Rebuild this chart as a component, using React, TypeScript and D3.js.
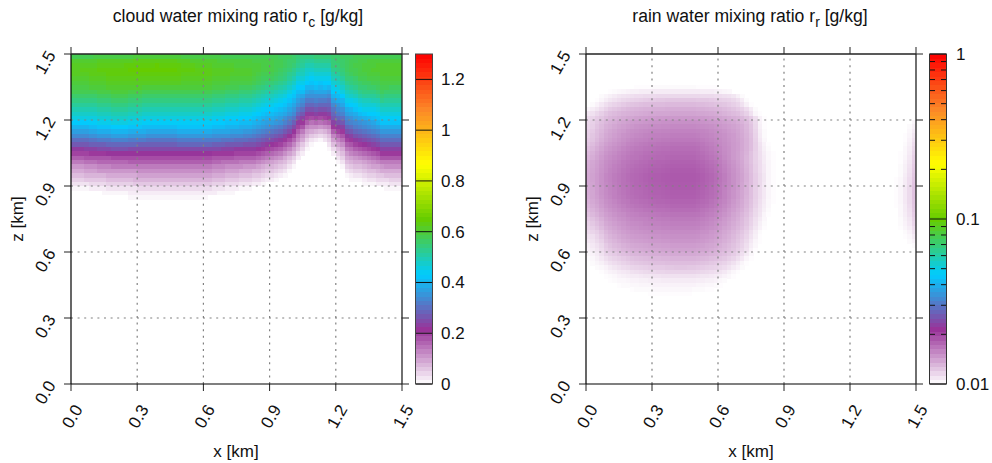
import React from "react";
import * as d3 from "d3";

// Axis ticks and labels
const axisTicks = [0, 0.3, 0.6, 0.9, 1.2, 1.5];
const gridTicks = [0.3, 0.6, 0.9, 1.2];
const rcBarTicks = [0, 0.2, 0.4, 0.6, 0.8, 1, 1.2];
const rrBarMajor = [0.01, 0.1, 1];
const rrBarMinor = [0.02, 0.03, 0.04, 0.05, 0.06, 0.07, 0.08, 0.09, 0.2, 0.3, 0.4, 0.5, 0.6, 0.7, 0.8, 0.9];
const paletteColors = ["#FFFFFF", "#993399", "#00CCFF", "#66CC00", "#FFFF00", "#FC8727", "#FD0000"];

// cell size of the model grid [km]
const dx = 0.02;
// rc [0.01 g/kg]: one array per grid column (x = 0..1.5 km), bottom-up from z = 0.84-0.86 km to 1.48-1.50 km
const rcColumns: number[][] = [
[0,0,1,3,5,7,9,11,14,17,20,23,27,30,34,37,40,43,46,48,50,52,54,56,58,59,60,61,62,62,62,61,58],
[0,0,1,3,5,7,9,11,14,17,20,23,27,30,34,37,40,43,46,48,50,52,54,56,58,59,60,61,62,62,62,61,58],
[0,0,1,3,5,7,9,11,14,17,20,23,27,30,34,37,40,43,46,48,50,52,54,56,58,59,60,61,62,63,62,61,58],
[0,0,1,3,6,8,10,12,15,18,20,24,27,30,34,37,40,43,46,48,50,52,54,56,58,59,60,61,62,63,62,61,58],
[0,0,2,4,6,8,10,12,15,18,21,24,28,31,35,38,41,44,46,48,50,52,54,56,58,60,61,62,63,63,62,61,58],
[0,0,2,4,6,8,10,12,15,18,21,24,28,31,35,38,41,44,46,48,50,52,54,56,58,60,61,62,63,63,62,61,59],
[0,0,2,4,6,8,11,13,16,18,21,25,28,32,36,39,42,45,47,49,51,53,55,57,59,60,61,62,63,64,63,62,59],
[0,1,2,4,6,8,11,13,16,18,21,25,28,32,36,39,42,45,47,49,51,53,55,57,59,60,61,62,63,64,63,62,59],
[0,1,3,5,7,9,11,13,16,18,22,25,29,32,36,39,42,45,47,49,51,53,55,57,59,61,62,63,64,64,63,62,59],
[0,1,3,5,7,9,11,14,16,19,22,26,29,33,37,40,43,46,48,50,52,54,56,58,60,61,62,63,64,64,63,62,59],
[0,1,3,5,7,9,11,14,16,19,22,26,29,33,37,40,43,46,48,50,52,54,56,58,60,61,62,63,64,64,63,62,59],
[0,1,3,5,7,9,11,14,16,19,22,26,29,33,37,40,43,46,48,50,52,54,56,58,60,61,62,63,64,64,63,62,59],
[0,1,3,5,7,9,11,14,16,19,22,26,29,33,37,40,43,46,48,50,52,54,56,58,60,61,62,63,64,64,64,62,59],
[1,2,3,5,7,9,11,14,17,19,22,25,29,32,36,39,42,45,47,49,51,53,55,57,59,61,62,63,64,65,64,62,59],
[1,2,3,6,8,9,11,14,17,19,22,25,29,32,36,39,42,45,47,49,51,53,55,57,59,61,62,63,64,65,64,63,60],
[1,2,4,6,8,10,12,14,17,19,22,25,28,32,36,39,42,45,47,49,51,53,55,57,59,61,62,63,64,65,64,63,60],
[1,2,4,6,8,10,12,14,17,19,22,25,28,32,36,39,41,44,46,48,50,52,54,56,58,60,62,63,64,65,64,63,60],
[1,2,4,6,8,10,12,14,17,19,22,25,28,31,35,38,41,44,46,48,50,52,54,56,58,60,62,63,64,65,64,63,60],
[1,2,4,6,8,10,12,14,17,19,22,25,28,31,35,38,41,44,46,48,50,52,54,56,58,60,62,63,64,65,64,63,60],
[1,2,4,6,8,10,12,14,17,19,22,25,28,31,35,38,41,44,46,48,50,52,54,56,58,60,62,63,64,65,65,63,60],
[1,2,4,6,8,10,12,14,17,19,22,25,28,31,35,38,41,44,46,48,50,52,54,56,58,60,62,63,64,65,64,63,60],
[1,2,4,6,8,10,12,14,17,19,22,25,28,31,35,38,41,44,46,48,50,52,54,56,58,60,62,63,64,65,64,63,60],
[1,2,4,6,8,10,12,14,17,19,22,25,28,31,35,38,41,44,46,48,50,52,54,56,58,60,62,63,64,65,64,63,60],
[1,2,4,6,8,10,12,14,17,19,22,25,28,31,35,38,41,44,46,48,50,52,54,56,58,60,62,63,64,65,64,63,60],
[1,2,4,6,8,10,12,14,17,19,22,25,29,32,36,39,42,44,46,48,50,52,54,56,58,60,62,63,64,64,64,62,60],
[1,2,4,6,8,10,12,14,17,19,22,25,29,32,36,39,42,44,46,48,50,52,54,56,58,60,61,62,63,64,63,62,59],
[1,2,4,6,8,10,12,14,17,19,22,25,29,32,36,39,42,44,46,48,50,52,54,56,58,60,61,62,63,64,63,62,59],
[1,2,4,6,8,10,12,14,17,19,22,25,29,32,36,39,42,44,46,48,50,52,54,56,58,60,61,62,63,64,63,61,59],
[1,2,4,6,8,10,12,14,17,19,22,25,29,32,36,39,42,44,46,48,50,52,54,56,58,60,61,62,63,63,62,61,59],
[1,2,4,6,8,10,12,14,17,19,22,25,29,32,36,39,42,44,46,48,50,52,54,56,58,60,61,62,63,63,62,61,59],
[1,2,4,6,8,10,12,14,17,19,22,25,29,32,36,39,42,44,46,48,50,52,54,56,58,60,61,62,63,63,62,61,59],
[0,2,4,6,8,10,12,14,17,19,22,25,29,32,36,39,42,44,46,48,50,52,54,56,58,60,61,62,63,63,62,61,59],
[0,2,3,5,7,9,11,13,16,18,21,25,28,32,35,38,41,43,45,47,49,51,53,55,57,59,60,61,62,62,61,61,59],
[0,1,3,5,7,9,11,13,16,18,21,25,28,32,35,38,41,43,45,47,49,51,53,55,57,59,60,61,62,62,61,60,59],
[0,1,3,5,7,9,11,13,15,18,21,24,28,31,35,38,41,43,45,47,49,51,53,55,57,59,60,61,62,62,61,60,58],
[0,1,2,4,6,8,10,12,15,18,21,24,27,31,35,38,40,42,44,46,48,50,52,54,56,58,60,61,62,62,61,60,58],
[0,1,2,4,6,8,10,12,15,18,21,24,27,31,34,37,40,42,44,46,48,50,52,54,56,58,59,60,61,62,61,60,58],
[0,0,2,4,6,8,10,12,15,17,20,23,27,30,34,37,40,42,44,46,48,50,52,54,56,58,59,60,61,61,60,60,58],
[0,0,1,3,5,7,9,12,14,17,20,23,27,30,34,37,39,41,43,45,47,49,51,53,55,57,59,60,61,61,60,60,58],
[0,0,1,3,5,7,9,11,14,17,20,23,26,30,33,36,39,41,43,45,47,49,51,53,55,57,59,60,61,61,60,60,58],
[0,0,1,3,5,7,9,11,14,17,20,23,26,29,33,36,39,41,43,45,47,49,51,53,55,57,59,60,61,61,60,60,58],
[0,0,0,2,4,6,8,11,14,17,20,23,26,29,32,35,38,40,42,44,46,48,50,52,54,56,58,59,60,60,60,59,58],
[0,0,0,2,4,6,8,10,13,16,19,22,25,28,31,34,37,39,41,43,45,47,49,51,53,55,57,58,59,60,60,59,58],
[0,0,0,1,3,5,7,9,12,15,18,21,24,27,30,33,36,38,40,42,44,46,48,50,52,54,56,57,58,59,59,59,58],
[0,0,0,0,2,4,6,8,11,14,17,20,23,26,29,32,35,37,39,41,43,45,47,49,51,53,55,57,58,59,59,59,58],
[0,0,0,0,2,4,6,8,10,13,16,19,22,25,28,31,34,37,39,41,43,45,47,49,51,53,55,57,58,59,59,59,58],
[0,0,0,0,1,3,5,7,9,12,15,18,21,24,27,30,33,36,38,40,42,44,46,48,50,52,54,56,57,58,58,58,58],
[0,0,0,0,0,2,4,6,8,11,14,17,20,23,26,29,32,35,37,39,41,43,45,47,49,51,53,55,56,57,58,58,57],
[0,0,0,0,0,1,3,5,7,9,12,15,18,21,24,27,30,33,35,38,40,42,44,46,48,50,52,54,55,56,57,57,57],
[0,0,0,0,0,0,1,3,5,7,10,13,16,19,22,25,28,31,33,36,38,40,42,44,46,48,50,52,53,55,56,56,57],
[0,0,0,0,0,0,0,1,3,5,8,10,13,16,19,22,25,28,31,34,36,38,40,42,44,46,48,50,52,53,55,56,56],
[0,0,0,0,0,0,0,0,0,2,4,7,9,12,14,17,20,23,26,29,32,35,37,39,41,43,45,47,49,51,53,54,55],
[0,0,0,0,0,0,0,0,0,0,2,4,6,9,11,14,18,21,24,27,30,33,35,38,41,43,45,47,49,50,52,53,54],
[0,0,0,0,0,0,0,0,0,0,0,1,3,5,8,10,13,17,20,23,26,29,32,35,38,40,43,45,47,48,50,52,54],
[0,0,0,0,0,0,0,0,0,0,0,0,1,3,6,9,12,15,19,23,26,29,32,35,37,40,42,44,46,48,50,52,54],
[0,0,0,0,0,0,0,0,0,0,0,0,0,2,5,8,12,16,20,24,27,30,33,35,38,41,43,45,47,49,51,53,55],
[0,0,0,0,0,0,0,0,0,0,0,0,0,1,4,7,11,15,19,23,26,29,32,35,38,40,42,45,47,49,51,53,55],
[0,0,0,0,0,0,0,0,0,0,0,0,0,3,5,8,12,16,20,23,26,29,32,35,38,41,43,45,47,49,51,53,55],
[0,0,0,0,0,0,0,0,0,0,0,1,3,5,7,10,13,17,21,24,27,29,31,34,37,40,43,45,47,49,51,53,55],
[0,0,0,0,0,0,0,0,0,0,2,4,7,10,13,17,21,24,27,29,31,34,37,40,43,45,47,49,51,53,55,55,56],
[0,0,0,0,0,0,0,0,1,3,5,7,10,13,16,20,23,26,29,32,34,36,39,41,44,46,48,50,52,54,55,56,56],
[0,0,0,0,0,0,0,1,3,5,7,9,12,15,18,21,24,27,30,33,35,38,40,43,46,48,50,52,54,55,56,56,57],
[0,0,0,0,0,1,3,5,7,9,11,14,17,20,23,26,29,32,34,37,39,42,45,47,49,51,53,55,56,57,57,57,57],
[0,0,0,0,1,2,4,6,8,10,13,15,18,21,24,27,30,33,35,38,40,43,45,48,50,52,54,55,57,58,58,58,57],
[0,0,0,0,1,3,5,7,9,11,14,17,20,23,26,29,32,34,37,39,42,44,46,49,51,53,55,56,58,58,59,58,58],
[0,0,0,0,1,3,5,7,9,12,15,18,21,24,27,30,33,35,38,41,44,46,48,51,53,55,56,58,59,59,59,59,58],
[0,0,0,1,2,4,6,8,10,13,16,19,22,25,28,31,34,36,39,42,45,47,49,52,54,55,57,58,59,60,60,59,58],
[0,0,0,1,3,5,7,9,11,14,17,20,23,26,29,32,35,37,40,43,45,47,49,52,54,56,57,59,60,60,60,60,58],
[0,0,0,1,3,5,7,10,12,15,18,21,24,27,30,33,36,38,41,43,45,47,50,52,54,56,58,59,60,61,60,60,58],
[0,0,0,2,4,6,8,10,13,16,19,22,25,28,31,34,37,40,42,44,46,48,50,53,55,57,58,59,60,61,61,60,58],
[0,0,0,2,4,6,9,11,14,18,21,24,27,30,33,36,39,42,44,46,48,50,53,55,57,58,59,60,61,61,61,60,58],
[0,0,1,2,4,7,9,12,14,18,21,24,27,30,33,36,39,42,44,46,48,50,52,54,56,58,59,60,61,61,61,60,58],
[0,0,1,3,5,7,9,12,14,18,21,24,27,30,33,36,39,42,44,46,48,50,52,54,56,57,59,60,61,61,61,60,58],
[0,0,1,3,5,7,9,12,14,18,21,24,27,30,33,36,39,42,44,46,48,50,52,54,56,57,59,60,61,61,61,60,58],
[0,0,1,3,5,7,9,12,14,18,21,24,27,30,33,36,39,42,44,46,48,50,52,54,56,57,59,60,61,61,61,60,58],
];

// rr [1e-4 g/kg]: one array per grid row, top-down from z = 1.34-1.36 km; index = grid column from x = 0
const rrTopRow = 1.34;
const rrRows: number[][] = [
[0,0,0,0,0,0,0,0,0,0,0,101,101,101,101,102,102,102,102,102,102,102,102,102,102,101,101,101,101,101],
[0,0,0,0,0,101,102,103,104,105,106,106,107,107,107,108,108,108,108,108,108,108,108,108,108,108,107,107,107,106,105,104,103],
[0,0,0,102,104,106,108,110,111,112,113,114,114,115,115,115,116,116,116,116,116,116,116,116,116,116,115,115,115,114,114,113,112,110,106,102],
[0,0,101,104,107,110,112,114,116,117,118,119,120,121,122,122,123,123,124,124,124,124,124,124,124,123,123,123,122,121,120,119,118,116,113,108,102],
[0,102,105,109,113,116,118,120,122,124,125,126,127,128,128,129,129,129,130,130,130,130,130,130,130,129,129,128,127,126,125,124,122,120,117,112,106,101],
[104,107,110,114,118,122,124,126,128,130,131,132,133,134,134,135,135,135,136,136,136,136,136,136,136,135,135,134,133,132,131,129,127,125,122,119,114,108,102],
[110,112,116,120,124,127,129,131,133,134,135,136,137,138,139,139,140,140,140,141,141,141,141,141,141,140,140,139,138,137,135,133,131,129,127,123,119,112,104,101],
[115,117,121,124,128,131,133,135,137,139,140,142,143,144,145,145,146,146,147,147,147,147,147,147,147,146,146,145,144,142,141,139,137,135,133,130,126,121,113,105,101],
[116,119,123,127,131,134,136,139,141,143,145,146,147,148,149,150,150,151,151,152,152,152,152,152,152,151,150,149,148,147,145,143,141,139,136,133,129,123,115,105,101],
[117,120,125,129,134,136,139,142,144,146,148,150,151,152,153,154,154,155,155,156,156,156,156,156,156,155,154,153,152,150,148,146,144,142,139,136,131,125,116,106,101],
[119,122,127,131,136,139,142,145,147,150,152,153,155,156,157,158,158,159,159,160,160,160,160,160,160,159,158,157,155,153,151,149,146,144,141,137,132,126,117,107,102],
[120,124,128,133,138,141,144,147,150,152,154,156,157,159,160,161,161,162,162,163,163,163,163,163,163,162,160,159,157,155,153,151,148,146,142,138,133,127,118,108,102],
[122,125,130,135,140,143,146,149,152,155,157,159,160,161,163,163,164,165,165,166,166,166,166,166,166,165,163,161,159,157,155,152,149,146,143,139,134,128,119,109,103],
[124,128,133,138,143,146,149,152,155,158,160,162,164,165,167,167,168,169,169,170,170,170,170,170,170,169,167,164,162,159,156,153,150,147,144,139,134,128,120,111,105,101],
[127,131,136,141,146,149,152,155,158,161,163,165,166,168,169,170,171,172,172,173,173,173,173,173,173,172,169,167,164,161,158,154,151,147,144,139,134,128,120,112,106,102],
[130,134,139,144,149,152,155,158,161,164,166,168,169,171,172,173,174,175,175,176,176,176,176,176,176,174,172,169,166,163,159,155,151,147,143,138,133,126,119,113,107,103,101],
[132,136,141,146,151,154,157,160,163,166,168,169,171,173,174,175,176,176,177,178,178,178,178,178,178,176,174,171,168,165,161,156,152,147,143,138,132,126,119,113,108,103,101],
[135,139,143,148,153,156,159,162,166,168,170,172,174,175,177,178,179,179,180,181,181,181,181,181,181,179,177,174,171,168,163,158,153,149,144,139,132,126,119,114,108,104,101],
[136,140,144,149,154,157,161,164,167,170,172,174,176,177,179,180,180,181,182,183,183,183,183,183,183,181,179,176,173,170,165,160,155,150,145,140,133,127,120,114,109,104,101],
[137,141,145,150,155,159,162,165,169,171,174,176,177,179,181,182,182,183,184,185,185,185,185,185,185,183,181,178,175,171,166,161,156,151,146,141,134,127,120,114,109,104,101],
[138,142,146,151,157,160,164,167,170,173,176,177,179,181,183,184,184,185,186,187,187,187,187,187,187,185,183,180,177,173,168,163,157,152,147,142,135,128,121,115,110,104,101],
[138,142,146,151,157,160,164,167,170,173,176,177,179,181,183,184,184,185,186,187,187,187,187,187,187,185,183,180,177,173,168,163,157,152,147,142,135,128,121,115,110,104,101],
[138,141,146,151,156,159,163,166,170,172,175,177,178,180,182,183,183,184,185,186,186,186,186,186,186,184,182,179,176,172,167,162,157,152,146,141,134,128,121,115,109,104,101],
[137,141,145,150,155,159,162,165,169,171,174,176,177,179,181,182,182,183,184,185,185,185,185,185,185,183,181,178,175,171,166,161,156,151,146,141,134,127,120,114,109,104,101],
[137,140,145,150,155,158,161,165,168,171,173,175,176,178,180,181,181,182,183,184,184,184,184,184,184,182,180,177,174,171,166,160,155,150,145,140,134,127,120,114,109,104,101],
[136,140,144,149,154,157,161,164,167,170,172,174,176,177,179,180,180,181,182,183,183,183,183,183,183,181,179,176,173,170,165,160,155,150,145,140,133,127,120,114,109,104,101],
[134,138,142,147,152,155,158,162,165,167,170,171,173,174,176,177,178,178,179,180,180,180,180,180,180,178,176,174,170,167,162,158,153,148,143,138,132,126,119,113,108,103,101],
[132,136,140,145,150,153,156,159,162,165,167,169,170,172,173,174,175,175,176,177,177,177,177,177,177,175,173,171,168,165,160,156,151,146,142,137,131,125,118,112,107,103],
[129,133,137,142,147,150,153,156,159,161,163,165,166,168,169,170,171,171,172,173,173,173,173,173,173,172,169,167,164,161,157,153,148,144,139,135,129,123,116,111,106,102],
[126,130,134,139,144,147,150,153,155,158,160,161,163,164,165,166,167,168,168,169,169,169,169,169,169,168,166,163,161,158,154,150,146,141,137,132,127,121,115,110,104,101],
[122,126,130,135,141,144,147,150,152,155,157,158,159,160,162,162,163,164,164,165,165,165,165,165,165,164,162,160,157,155,151,147,143,139,135,130,125,119,113,108,103],
[119,123,127,132,138,141,144,147,149,152,154,155,156,158,159,160,160,161,161,162,162,162,162,162,162,161,159,157,155,152,148,145,141,137,133,129,124,118,112,106,102],
[117,120,124,129,135,138,141,144,147,149,151,152,154,155,156,157,157,158,158,159,159,159,159,159,159,158,156,154,152,150,146,142,139,135,131,127,122,116,110,105,101],
[114,117,120,125,131,135,138,141,144,146,148,149,150,151,152,153,153,154,154,155,155,155,155,155,155,154,152,151,148,146,143,139,136,132,128,124,119,113,107,102],
[111,113,117,122,128,132,135,138,141,143,145,146,147,148,149,150,150,151,151,152,152,152,152,152,152,151,149,148,146,144,141,137,134,130,126,122,117,111,106,101],
[109,111,115,119,126,129,132,135,138,140,142,143,144,145,146,147,147,148,148,149,149,149,149,149,149,148,147,145,143,141,138,135,132,128,124,120,115,109,104,101],
[106,109,112,116,122,126,129,131,134,136,138,139,140,141,142,143,143,144,144,145,145,145,145,145,145,144,143,141,140,138,135,132,129,126,122,118,113,107,103],
[105,107,110,114,120,123,126,128,131,133,135,136,137,138,139,140,140,141,141,142,142,142,142,142,142,141,140,139,137,135,132,130,127,124,120,116,111,105,101],
[103,105,108,112,117,120,122,125,127,129,131,132,133,134,135,136,136,137,137,138,138,138,138,138,138,137,136,135,133,132,129,127,124,121,117,113,108,103],
[101,103,106,109,113,116,118,120,122,124,126,127,128,129,130,131,131,132,132,133,133,133,133,133,133,132,131,130,128,127,125,123,120,117,113,109,104,101],
[0,102,104,106,109,112,114,116,118,120,122,123,124,125,126,127,127,127,128,128,128,128,128,128,128,127,126,125,123,122,120,118,115,112,108,104,101],
[0,0,102,103,105,108,110,112,114,115,117,118,119,120,121,122,122,122,123,123,124,124,124,123,123,122,121,120,119,118,116,114,111,108,105,102],
[0,0,0,101,103,105,106,108,109,110,112,113,114,115,116,116,117,117,118,118,118,118,118,118,118,117,116,115,114,113,111,109,106,103,101],
[0,0,0,0,101,102,103,105,106,107,108,108,109,110,110,111,111,112,112,112,112,112,112,112,112,111,110,110,109,108,107,105,103,101],
[0,0,0,0,0,101,102,103,103,104,105,105,106,106,107,107,107,108,108,108,108,108,108,108,108,107,107,106,106,105,103,102],
[0,0,0,0,0,0,0,101,102,102,103,103,104,104,104,105,105,105,105,105,105,105,105,105,105,104,104,103,103,102,101],
[0,0,0,0,0,0,0,0,0,0,101,102,102,102,102,103,103,103,103,103,103,103,103,103,102,102,102,101,101],
[0,0,0,0,0,0,0,0,0,0,0,0,0,0,101,101,101,101,101,101,101,101,101,101],
];

// rr [1e-4 g/kg] at the last five grid columns (x = 1.40..1.50 km), top-down from z = 1.18-1.20 km
const rrEdgeTopRow = 1.18;
const rrEdgeRows: number[][] = [
[0,0,0,0,104],[0,0,0,102,106],[0,0,0,103,108],[0,0,101,104,110],[0,0,101,105,112],[0,0,102,106,114],[0,0,103,107,116],[0,101,103,108,117],
[0,101,104,109,119],[0,101,105,110,120],[0,102,106,111,121],[0,102,106,112,122],[0,102,107,113,123],[101,103,108,114,124],[101,103,108,114,125],
[101,104,109,115,126],[101,104,109,115,126],[101,104,109,115,126],[101,104,109,115,125],[101,103,108,114,124],[0,103,108,113,123],[0,103,107,112,121],
[0,102,106,110,119],[0,102,105,109,117],[0,101,104,107,114],[0,0,102,105,111],[0,0,101,103,108],[0,0,0,102,105],[0,0,0,0,102],
];

const W = 992, H = 463;
const T = 54, B = 384;
const textColor = "#111";
const sans = "'Liberation Sans', Arial, sans-serif";

const zScale = d3.scaleLinear().domain([0, 1.5]).range([B, T]);
const rcDomain = paletteColors.map((_, i) => (i / 6) * 1.3);
const rcColor = d3.scaleLinear<string>().domain(rcDomain).range(paletteColors);
const logFrac = d3.scaleLog().domain([0.01, 1]).range([0, 1]);
const rrColor = d3.scaleLinear<string>().domain(paletteColors.map((_, i) => i / 6)).range(paletteColors);
const barBands = d3.range(0, 75);

function Frame({ left, right, children }: { left: number; right: number; children?: React.ReactNode }) {
  const x = d3.scaleLinear().domain([0, 1.5]).range([left, right]);
  const R = right;
  return (
    <g>
      {children}
      {gridTicks.map((t) => (
        <g key={t} stroke="#808080" strokeWidth={1.2} strokeDasharray="2 4.6" fill="none">
          <line x1={x(t)} x2={x(t)} y1={B} y2={T} />
          <line x1={left} x2={R} y1={zScale(t)} y2={zScale(t)} />
        </g>
      ))}
      {axisTicks.map((t) => (
        <g key={t} stroke="#222" strokeWidth={1}>
          <line x1={left - 7} x2={left} y1={zScale(t)} y2={zScale(t)} />
          <line x1={R} x2={R + 7} y1={zScale(t)} y2={zScale(t)} />
          <line x1={x(t)} x2={x(t)} y1={B} y2={B + 7} />
          <line x1={x(t)} x2={x(t)} y1={T - 7} y2={T} />
        </g>
      ))}
      <line x1={left} x2={left} y1={T} y2={B} stroke="#000" strokeWidth={1.2} />
      <line x1={left} x2={R} y1={B} y2={B} stroke="#000" strokeWidth={1.2} />
      <line x1={R} x2={R} y1={T} y2={B} stroke="#222" strokeWidth={1.3} />
      <line x1={left} x2={R} y1={T} y2={T} stroke="#222" strokeWidth={1.6} />
      {axisTicks.map((t) => (
        <g key={t} fontSize={17} fontFamily={sans} fill={textColor}>
          <text textAnchor="end" transform={`translate(${x(t) + 7},${B + 22}) rotate(-60)`} dy="0.35em">
            {t.toFixed(1)}
          </text>
          <text textAnchor="end" transform={`translate(${left - 20},${zScale(t) - 2}) rotate(-60)`} dy="0.35em">
            {t.toFixed(1)}
          </text>
        </g>
      ))}
      <text x={left + 165} y={457} textAnchor="middle" fontSize={17} fontFamily={sans} fill={textColor}>x [km]</text>
      <text transform={`translate(${left - 48},219) rotate(-90)`} textAnchor="middle" fontSize={17} fontFamily={sans} fill={textColor}>z [km]</text>
    </g>
  );
}

function Title({ cx, text, sub }: { cx: number; text: string; sub: string }) {
  return (
    <text x={cx} y={22} textAnchor="middle" fontSize={17.6} fontFamily={sans} fill={textColor}>
      {text}
      <tspan dy={5} fontSize={14}>{sub}</tspan>
      <tspan dy={-5}> [g/kg]</tspan>
    </text>
  );
}

export default function App() {
  const xL = d3.scaleLinear().domain([0, 1.5]).range([71, 402]);
  const xR = d3.scaleLinear().domain([0, 1.5]).range([586, 916]);
  const cellH = zScale(0) - zScale(dx);
  const rcBarY = d3.scaleLinear().domain([0, 1.3]).range([B, T]);
  const rrBarY = d3.scaleLog().domain([0.01, 1]).range([B, T]);
  const bandH = (B - T) / barBands.length;
  const zBottom = 0.84;
  return (
    <svg width={W} height={H} style={{ position: "absolute", left: 0, top: 0, background: "#fff" }}>
      <Title cx={238} text="cloud water mixing ratio r" sub="c" />
      <Title cx={750} text="rain water mixing ratio r" sub="r" />

      <Frame left={71} right={402}>
        <g shapeRendering="crispEdges">
          {rcColumns.flatMap((col, j) =>
            col.map((v, k) =>
              v > 0 ? (
                <rect key={`${j}-${k}`} x={xL(j * dx)} width={xL(dx) - xL(0) + 0.4}
                  y={zScale(zBottom + (k + 1) * dx)} height={cellH + 0.4} fill={rcColor(v / 100)} />
              ) : null
            )
          )}
        </g>
      </Frame>

      <Frame left={586} right={916}>
        <g shapeRendering="crispEdges">
          {rrRows.flatMap((row, r) =>
            row.map((v, j) =>
              v > 0 ? (
                <rect key={`${r}-${j}`} x={xR(j * dx)} width={xR(dx) - xR(0) + 0.4}
                  y={zScale(rrTopRow + dx - r * dx)} height={cellH + 0.4} fill={rrColor(logFrac(v / 1e4))} />
              ) : null
            )
          )}
          {rrEdgeRows.flatMap((row, r) =>
            row.map((v, j) =>
              v > 0 ? (
                <rect key={`e${r}-${j}`} x={xR(1.4 + j * dx)} width={xR(dx) - xR(0) + 0.4}
                  y={zScale(rrEdgeTopRow + dx - r * dx)} height={cellH + 0.4} fill={rrColor(logFrac(v / 1e4))} />
              ) : null
            )
          )}
        </g>
      </Frame>

      {/* colour bars */}
      <g shapeRendering="crispEdges">
        {barBands.map((i) => (
          <rect key={i} x={416} width={16} y={B - (i + 1) * bandH} height={bandH + 0.5}
            fill={rcColor(((i + 0.5) / barBands.length) * 1.3)} />
        ))}
        {barBands.map((i) => (
          <rect key={i} x={930} width={16} y={B - (i + 1) * bandH} height={bandH + 0.5}
            fill={rrColor((i + 0.5) / barBands.length)} />
        ))}
      </g>
      <rect x={415.5} y={T} width={17} height={B - T} fill="none" stroke="#444" strokeWidth={1} />
      <rect x={929.5} y={T} width={17} height={B - T} fill="none" stroke="#333" strokeWidth={1} />
      {rcBarTicks.map((t) => (
        <g key={t}>
          <line x1={416} x2={432} y1={rcBarY(t)} y2={rcBarY(t)} stroke="#111" strokeWidth={1} />
          <text x={441} y={rcBarY(t)} dy="0.35em" fontSize={17} fontFamily={sans} fill={textColor}>{t}</text>
        </g>
      ))}
      {rrBarMinor.map((t) => (
        <g key={t} stroke="#111" strokeWidth={1}>
          <line x1={930} x2={935} y1={rrBarY(t)} y2={rrBarY(t)} />
          <line x1={941} x2={946} y1={rrBarY(t)} y2={rrBarY(t)} />
        </g>
      ))}
      {rrBarMajor.map((t) => (
        <g key={t}>
          <line x1={930} x2={946} y1={rrBarY(t)} y2={rrBarY(t)} stroke="#111" strokeWidth={1} />
          <text x={956} y={rrBarY(t)} dy="0.35em" fontSize={17} fontFamily={sans} fill={textColor}>{t}</text>
        </g>
      ))}
    </svg>
  );
}
